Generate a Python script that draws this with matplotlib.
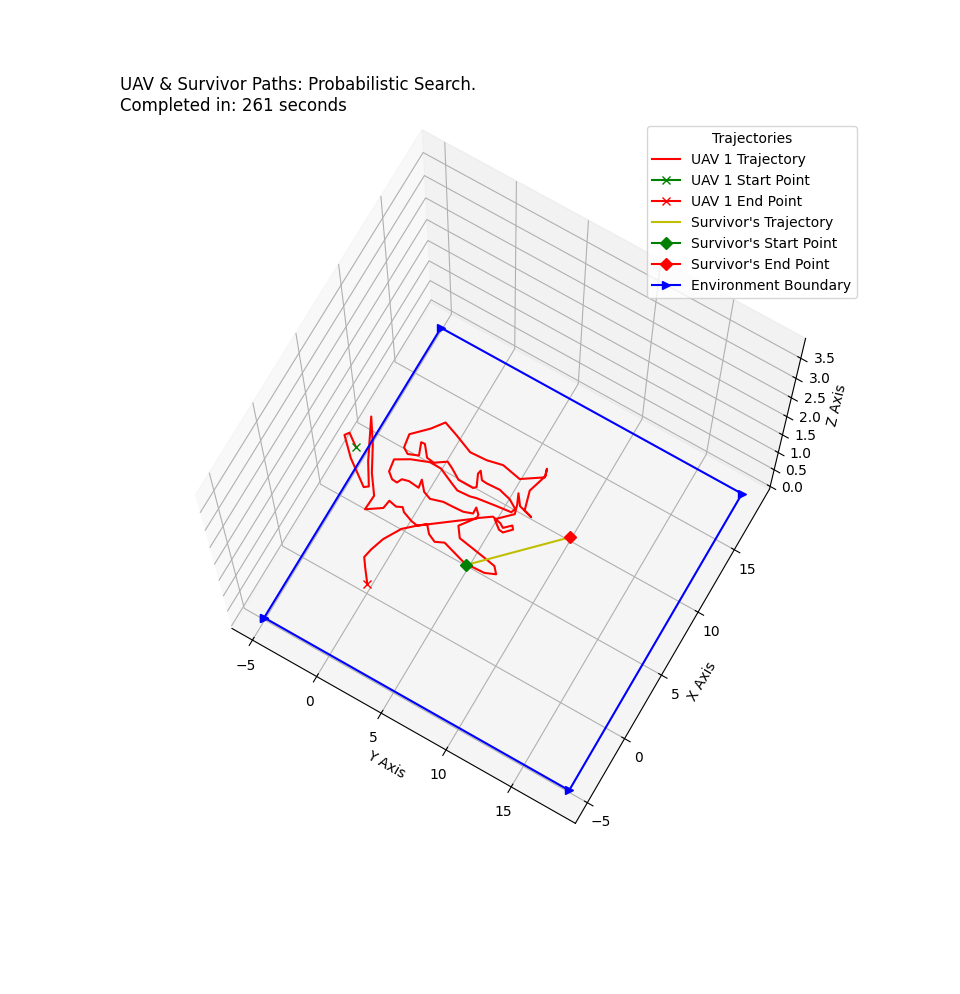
import matplotlib
matplotlib.use("Agg")
import matplotlib.pyplot as plt

# UAV 1 trajectory (values in the "X Axis" / "Y Axis" frame), flown at constant altitude
uav_x = [4.46, 5.09, 4.80, 3.68, 2.45, 2.65, 4.06, 6.70, 5.15, 3.52, 2.29, 1.24, 1.89, 2.49,
         2.37, 2.55, 2.31, 2.04, 1.96, 2.36, 1.86, 1.60, 1.87, 1.39, 1.30, 1.37, 1.42, 1.71,
         2.12, 2.27, 2.49, 2.60, 3.26, 4.25, 4.86, 4.72, 4.54, 4.97, 4.76, 4.28, 4.31, 4.77,
         5.69, 6.29, 6.99, 6.31, 6.04, 6.21, 7.50, 8.83, 9.29, 8.73, 7.84, 8.11, 7.87, 7.80,
         8.34, 8.72, 7.90, 6.90, 5.98, 5.72, 5.99, 6.82, 6.84, 6.12, 6.05, 6.55, 6.31, 5.86,
         5.86, 5.86, 6.03, 6.83, 7.08, 6.58, 6.55, 6.60, 6.38, 6.00, 5.69, 5.57, 5.39, 5.28,
         5.22, 5.45, 5.95, 5.97, 5.51, 4.98, 4.14, 3.79, 3.76, 4.10, 4.22, 4.15, 4.71, 4.09,
         3.88, 4.13, 4.16, 4.20, 4.41, 4.85, 4.51, 4.24, 1.96, 1.28, 0.13, -0.82, -1.47,
         -2.04, -2.87]
uav_y = [-2.78, -3.63, -3.83, -2.70, -1.03, -0.77, -1.65, -2.98, -1.95, -1.06, -0.17, -0.22,
         0.74, 0.83, 1.39, 1.77, 2.00, 2.71, 3.17, 3.67, 4.10, 4.66, 5.23, 6.83, 7.13, 7.45,
         8.39, 9.07, 8.71, 7.90, 6.57, 5.91, 5.43, 6.16, 7.02, 7.64, 7.93, 8.37, 8.54, 8.08,
         7.78, 7.20, 8.13, 7.96, 7.65, 8.16, 9.13, 8.55, 8.18, 8.57, 8.41, 8.57, 7.25, 5.89,
         4.83, 3.66, 2.34, 1.31, 0.70, -0.29, -0.14, 0.28, 0.95, 0.63, 0.89, 1.47, 2.00, 2.73,
         3.20, 3.92, 4.23, 5.00, 5.15, 4.79, 4.84, 5.22, 5.59, 6.51, 7.36, 7.98, 7.88, 6.85,
         5.51, 5.09, 4.21, 3.67, 2.58, 1.80, 0.61, -0.29, -0.16, 0.27, 0.64, 0.80, 1.25, 2.00,
         1.91, 2.44, 2.99, 3.82, 4.57, 5.23, 5.83, 5.81, 6.16, 6.18, 3.17, 2.42, 1.76, 1.45,
         1.32, 1.73, 2.37]
uav_altitude = 2.0
uav_z = [uav_altitude] * len(uav_x)

# Survivor path (on the ground)
surv_x = [4.92, 10.06]
surv_y = [4.89, 9.96]
surv_z = [0.0, 0.0]

# Environment boundary (closed square on the ground)
bound_x = [-5, 18.5, 18.5, -5, -5]
bound_y = [-5, -5, 18.5, 18.5, -5]
bound_z = [0, 0, 0, 0, 0]

xy_limits = (-6.6, 19.9)
z_limits = (-0.08, 3.98)
search_seconds = 261

fig = plt.figure(figsize=(9.6, 9.94), dpi=100)
ax = fig.add_subplot(111, projection="3d")

# horizontal screen axis carries the Y values, the receding one the X values
ax.plot(uav_y, uav_x, uav_z, "r-", label="UAV 1 Trajectory")
ax.plot([uav_y[0]], [uav_x[0]], [uav_z[0]], "gx-", label="UAV 1 Start Point")
ax.plot([uav_y[-1]], [uav_x[-1]], [uav_z[-1]], "rx-", label="UAV 1 End Point")
ax.plot(surv_y, surv_x, surv_z, "y-", label="Survivor's Trajectory")
ax.plot([surv_y[0]], [surv_x[0]], [surv_z[0]], "gD-", label="Survivor's Start Point")
ax.plot([surv_y[-1]], [surv_x[-1]], [surv_z[-1]], "rD-", label="Survivor's End Point")
ax.plot(bound_y, bound_x, bound_z, "b>-", label="Environment Boundary")

ax.set_xlim(*xy_limits)
ax.set_ylim(*xy_limits)
ax.set_zlim(*z_limits)
ax.set_box_aspect((1, 1, 1.265), zoom=1.036)
ax.view_init(elev=74.5, azim=-60)
ax.zaxis.set_ticks_position("upper")
ax.zaxis.set_label_position("upper")

ax.set_xlabel("Y Axis")
ax.set_ylabel("X Axis")
ax.set_zlabel("Z Axis")
ax.set_title("UAV & Survivor Paths: Probabilistic Search.\n"
             f"Completed in: {search_seconds} seconds", loc="left", pad=14)
ax.legend(loc="upper right", title="Trajectories", bbox_to_anchor=(1.0, 1.014))

fig.savefig("out.png", dpi=100)
